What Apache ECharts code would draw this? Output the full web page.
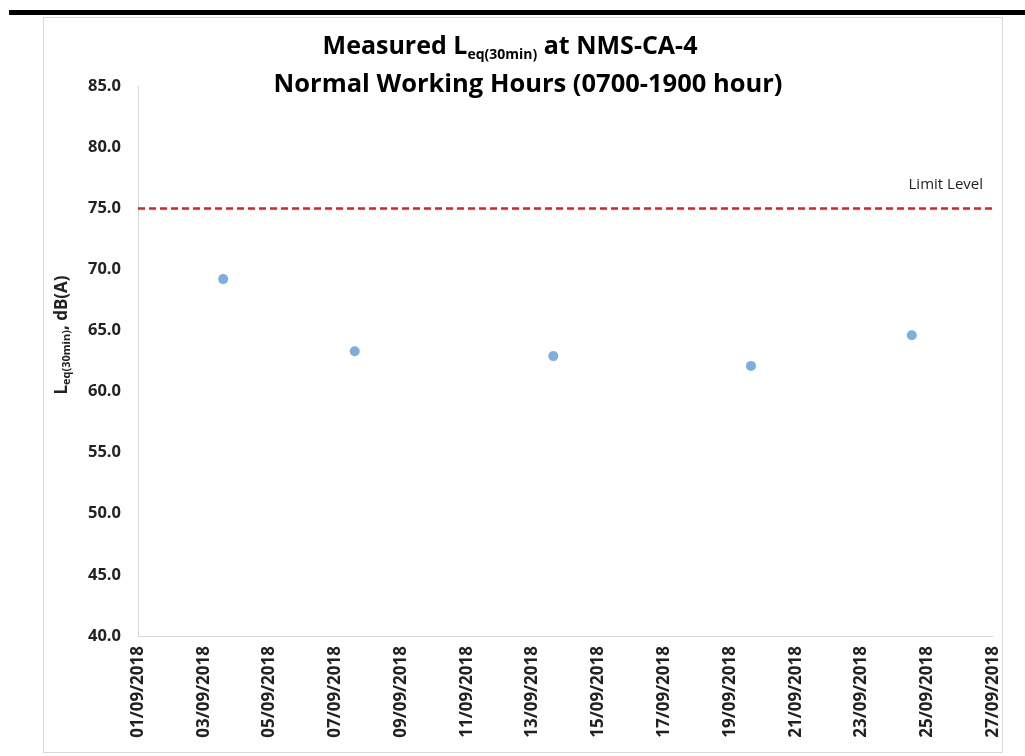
<!DOCTYPE html>
<html>
<head>
<meta charset="utf-8">
<script src="https://cdn.jsdelivr.net/npm/echarts@6/dist/echarts.min.js"></script>
<style>
html,body{margin:0;padding:0;background:#fff;}
#chart{width:1025px;height:756px;}
</style>
</head>
<body>
<div id="chart"></div>
<script>
// Measurement date/time (days after 01/09/2018 00:00) and values
const measureDays = [2.59, 6.59, 12.63, 18.64, 23.53];
const measureValues = [69.2, 63.3, 62.9, 62.1, 64.6];
const limitLevel = 75;
const xTickDates = ['01/09/2018','03/09/2018','05/09/2018','07/09/2018','09/09/2018','11/09/2018','13/09/2018','15/09/2018','17/09/2018','19/09/2018','21/09/2018','23/09/2018','25/09/2018','27/09/2018'];
const yMin = 40, yMax = 85, yStep = 5;
const xMin = 0, xMax = 26, xStep = 2;

const font = '"Open Sans", "Liberation Sans", sans-serif';
const chart = echarts.init(document.getElementById('chart'));
const points = measureDays.map((d, i) => [d, measureValues[i]]);

chart.setOption({
  animation: false,
  backgroundColor: '#fff',
  graphic: [
    { type: 'rect', shape: { x: 9, y: 10, width: 1016, height: 5 }, style: { fill: '#000' }, silent: true },
    { type: 'rect', shape: { x: 43.5, y: 17.5, width: 959, height: 735 }, style: { fill: 'none', stroke: '#d9d9d9', lineWidth: 1 }, silent: true }
  ],
  title: [{
    left: 505, textAlign: 'center',
    top: 23,
    text: '{m|Measured L}{s|eq(30min)}{m| at NMS-CA-4}',
    textStyle: {
      rich: {
        m: { fontFamily: font, fontSize: 25, fontWeight: 'bold', color: '#000', lineHeight: 38, letterSpacing: -0.8 },
        s: { fontFamily: font, fontSize: 14, fontWeight: 'bold', color: '#000', lineHeight: 38, padding: [16, 0, 0, 0], letterSpacing: -0.3 }
      }
    }
  }, {
    left: 523, textAlign: 'center',
    top: 61,
    text: 'Normal Working Hours (0700-1900 hour)',
    textStyle: { fontFamily: font, fontSize: 25.5, fontWeight: 'bold', color: '#000', lineHeight: 38, letterSpacing: -0.4 }
  }],
  grid: { left: 138, top: 86, right: 32, bottom: 120, containLabel: false },
  xAxis: {
    type: 'value',
    min: xMin, max: xMax, interval: xStep,
    axisLine: { show: true, lineStyle: { color: '#d9d9d9', width: 1 } },
    axisTick: { show: false },
    splitLine: { show: false },
    axisLabel: {
      rotate: 90,
      margin: 10,
      fontFamily: font, fontSize: 17, fontWeight: 'bold', color: '#222',
      formatter: v => xTickDates[Math.round((v - xMin) / xStep)] || ''
    }
  },
  yAxis: {
    type: 'value',
    min: yMin, max: yMax, interval: yStep,
    axisLine: { show: true, lineStyle: { color: '#d9d9d9', width: 1 } },
    axisTick: { show: false },
    splitLine: { show: false },
    axisLabel: {
      margin: 17,
      fontFamily: font, fontSize: 16.5, fontWeight: 'bold', color: '#222',
      formatter: v => v.toFixed(1)
    },
    name: '{m|L}{s|eq(30min)}{m|, dB(A)}',
    nameLocation: 'middle',
    nameRotate: 90,
    nameGap: 64,
    nameTextStyle: {
      padding: [0, 0, 0, 52],
      rich: {
        m: { fontFamily: font, fontSize: 17, fontWeight: 'bold', color: '#222', lineHeight: 24 },
        s: { fontFamily: font, fontSize: 11, fontWeight: 'bold', color: '#222', lineHeight: 24, padding: [10, 0, 0, 0] }
      }
    }
  },
  series: [{
    type: 'scatter',
    data: points,
    symbolSize: 10,
    itemStyle: { color: '#5b9bd5' },
    markLine: {
      silent: true,
      symbol: 'none',
      lineStyle: { color: '#e0201f', type: [7, 4], width: 2.5 },
      label: {
        show: true,
        position: 'insideEndTop',
        formatter: 'Limit Level',
        fontFamily: font, fontSize: 15, color: '#222',
        distance: [10, 16]
      },
      data: [{ yAxis: limitLevel }]
    }
  }]
});
</script>
</body>
</html>
